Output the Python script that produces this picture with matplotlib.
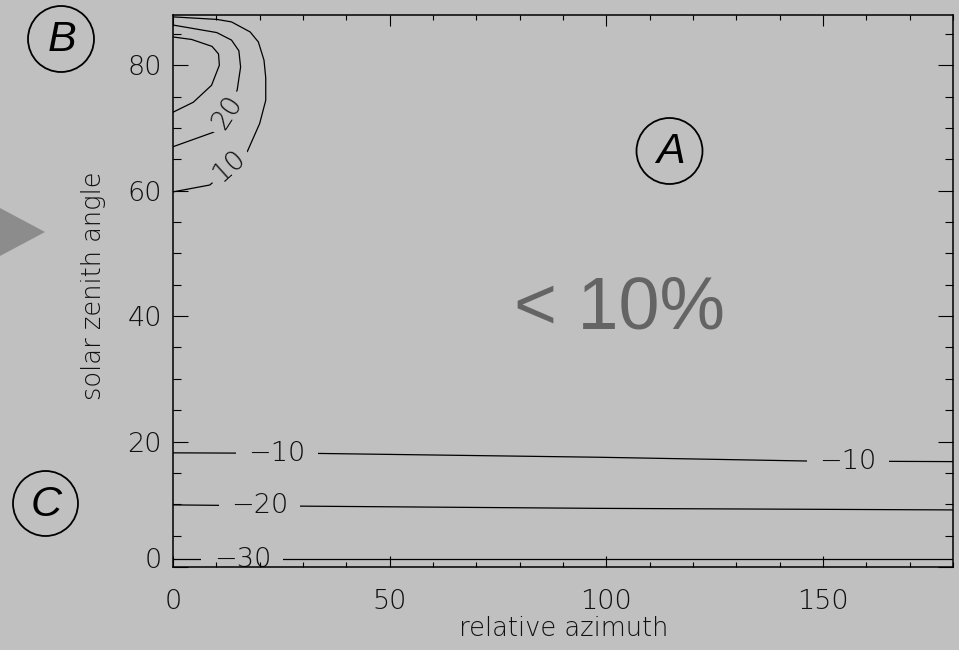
import numpy as np
import matplotlib
matplotlib.use('Agg')
import matplotlib.pyplot as plt
from matplotlib.patches import Circle, Polygon
from matplotlib.transforms import ScaledTranslation

# ---- data (relative azimuth, solar zenith angle) ----
c10_az = [0, 8.5, 17, 20, 21.4, 21.4, 21, 19.7, 17.8, 13.5, 10.1, 0]
c10_zen = [59.8, 60.9, 66, 70.7, 74.4, 78, 80.8, 83.7, 85.3, 86.9, 87.3, 87.7]
c20_az = [0, 9.7, 14.8, 15.6, 15.2, 13.5, 10.1, 0]
c20_zen = [67, 69.4, 76, 79.7, 82.3, 84.0, 85.2, 86.4]
c30_az = [0, 4.7, 8.9, 10.7, 10.5, 9.0, 4.3, 0]
c30_zen = [72.5, 74.1, 76.8, 80.0, 81.8, 83.0, 84.1, 84.5]
m10_az = [0, 34, 98, 146, 180]
m10_zen = [18.2, 18.1, 17.5, 16.9, 16.8]
m20_az = [0, 30, 98, 180]
m20_zen = [9.9, 9.7, 9.35, 9.1]
m30_az = [0, 180]
m30_zen = [1.27, 1.27]

levels = [10, 20, 30, -10, -20, -30]
x_ticks = [0, 50, 100, 150]
y_ticks = [0, 20, 40, 60, 80]

BG = '#c0c0c0'
TXT = '#101010'
LIGHT = dict(family=['DejaVu Sans'], weight='light')

fig = plt.figure(figsize=(9.59, 6.5), dpi=100, facecolor=BG)
ax = fig.add_axes([173 / 959, 1 - 567 / 650, 780 / 959, 552 / 650])
ax.set_facecolor(BG)
ax.set_xlim(0, 180)
ax.set_ylim(0, 88)

lines = [(c10_az, c10_zen), (c20_az, c20_zen), (c30_az, c30_zen),
         (m10_az, m10_zen), (m20_az, m20_zen), (m30_az, m30_zen)]
for az, zen in lines:
    ax.plot(az, zen, color='black', lw=0.9, zorder=2)

def clabel(x, y, text, rot=0, pad=0.45):
    ax.text(x, y, text, rotation=rot, rotation_mode='anchor', ha='center',
            va='center', fontsize=19.5, color=TXT, zorder=2.2,
            bbox=dict(boxstyle='square', pad=pad, fc=BG, ec='none'), **LIGHT)

def lab(v):
    return ('\u2212%d' % -v) if v < 0 else '%d' % v

clabel(12.9, 63.9, lab(levels[0]), rot=42, pad=0.22)
clabel(12.4, 72.4, lab(levels[1]), rot=57, pad=0.22)
clabel(24, np.interp(24, m10_az, m10_zen), lab(levels[3]))
clabel(155.8, np.interp(155.8, m10_az, m10_zen), lab(levels[3]))
clabel(20, np.interp(20, m20_az, m20_zen), lab(levels[4]))
clabel(16, np.interp(16, m30_az, m30_zen), lab(levels[5]))

# axes styling
for s in ax.spines.values():
    s.set_linewidth(1.1)
    s.set_color('black')
    s.set_zorder(2.6)
ax.xaxis.set_zorder(2.6)
ax.yaxis.set_zorder(2.6)
ax.set_xticks(x_ticks)
ax.set_xticks(np.arange(0, 181, 10), minor=True)
ax.set_yticks(y_ticks)
ax.set_yticks(np.arange(0, 89, 5), minor=True)
ax.tick_params(axis='x', which='major', direction='in', length=8, width=0.8,
               top=True, bottom=True, pad=16, labelsize=19.5, labelcolor=TXT)
ax.tick_params(axis='x', which='minor', direction='in', length=3.8, width=0.8,
               top=True, bottom=True)
ax.tick_params(axis='y', which='major', direction='in', length=11, width=0.8,
               left=True, right=True, pad=8, labelsize=19.5, labelcolor=TXT)
ax.tick_params(axis='y', which='minor', direction='in', length=5.5, width=0.8,
               left=True, right=True)
for t in ax.get_xticklabels() + ax.get_yticklabels():
    t.set_fontfamily(LIGHT['family'])
    t.set_fontweight('light')
# the "0" label on the y axis sits a little above its tick
zt = ax.yaxis.get_major_ticks()[0].label1
zt.set_transform(zt.get_transform() + ScaledTranslation(0, 9 / 100, fig.dpi_scale_trans))

fig.text(564 / 959, 1 - 629 / 650, 'relative azimuth', ha='center', va='center',
         fontsize=18.5, color=TXT, **LIGHT)
fig.text(94 / 959, 1 - 286 / 650, 'solar zenith angle', ha='center', va='center',
         rotation=90, fontsize=18.5, color=TXT, **LIGHT)

# overlay decorations in pixel coordinates
ov = fig.add_axes([0, 0, 1, 1])
ov.set_xlim(0, 959)
ov.set_ylim(650, 0)
ov.axis('off')
ov.add_patch(Polygon([[-60, 176], [45, 232], [-60, 288]], closed=True,
                     fc='#8c8c8c', ec='none'))
for (cx, cy, r, letter) in [(61, 39, 33, 'B'), (669.5, 151, 33, 'A'), (45.5, 503.5, 32.5, 'C')]:
    ov.add_patch(Circle((cx, cy), r, fill=False, ec='black', lw=1.3))
    ov.text(cx + 1, cy + 1, letter, ha='center', va='center', fontsize=31,
            style='italic', family=['Liberation Sans', 'DejaVu Sans'], color='black')
ov.text(619, 309, '< 10%', ha='center', va='center', fontsize=53,
        family=['Liberation Sans', 'DejaVu Sans'], color='#646464')

fig.savefig('out.png', dpi=100, facecolor=BG)
